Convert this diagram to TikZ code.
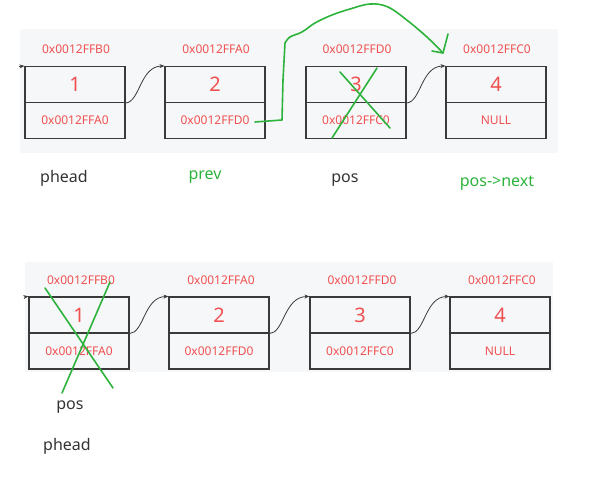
\documentclass[tikz,border=0pt]{standalone}
\usepackage{fontspec}
\setmainfont{Noto Sans}
\usetikzlibrary{arrows.meta}
\definecolor{addr}{HTML}{F05050}
\definecolor{bgc}{HTML}{F6F7F9}
\definecolor{grn}{HTML}{2DB33C}
\definecolor{lbl}{HTML}{333333}
\definecolor{edge}{HTML}{3A3A3A}
\begin{document}
\begin{tikzpicture}[x=1pt,y=-1pt,
  cell/.style={draw=edge,line width=1.1pt,minimum width=100pt,minimum height=36pt,inner sep=0pt,text=addr},
  numtext/.style={font=\fontsize{20}{20}\selectfont},
  ptrtext/.style={font=\fontsize{12}{12}\selectfont},
  addrlbl/.style={text=addr,font=\fontsize{12}{12}\selectfont},
  namelbl/.style={text=lbl,font=\fontsize{16}{16}\selectfont},
  greenlbl/.style={text=grn,font=\fontsize{16}{16}\selectfont},
  link/.style={draw=edge,line width=0.8pt,-{Stealth[length=5pt,width=4pt]}},
  gstroke/.style={draw=grn,line width=1.6pt,line cap=round,line join=round}]
\useasboundingbox (0,0) rectangle (590,481);
\fill[bgc] (20,29) rectangle (558,153);
\fill[bgc] (25,262) rectangle (553,372);
% ---- top row ----
\foreach \n/\x/\v/\p/\a in {1/75/1/0x0012FFA0/0x0012FFB0,2/215/2/0x0012FFD0/0x0012FFA0,3/356/3/0x0012FFC0/0x0012FFD0,4/496/4/NULL/0x0012FFC0}{
  \node[cell,numtext] (ta\n) at (\x,84.5) {\v};
  \node[cell,ptrtext] (tb\n) at (\x,120.5) {\p};
  \node[addrlbl] (tl\n) at (\x+1,49) {\a};
}
\coordinate (tin) at (19,66.5);
\draw[link] (tin) -- (ta1.north west);
\draw[link] (ta1.south east) .. controls (140,102) and (140,66.5) .. (ta2.north west);
\draw[link] (ta3.south east) .. controls (421,102) and (421,66.5) .. (ta4.north west);
\node[namelbl] (phead1) at (64,178) {phead};
\node[greenlbl] (prev) at (205,177) {prev};
\node[namelbl] (pos1) at (345,180) {pos};
\node[greenlbl] (posnext) at (497,183) {pos->next};
% green redirect
\coordinate (gs) at (255,122);
\coordinate (ge) at (443,53);
\draw[gstroke] (gs) -- (282,120) -- (283,80) -- (285,43)
  plot[smooth,tension=0.6] coordinates {(285,43) (290,37) (302,32) (315,23) (332,15) (350,9) (370,4) (388,7) (408,21) (428,38) (443,53)};
\draw[gstroke] (432,51) -- (ge) -- (448,34);
% cross on node 3
\draw[gstroke] (340,72) -- (390,128);
\draw[gstroke] (377,68) -- (332,138);
% ---- bottom row ----
\foreach \n/\x/\v/\p/\a in {1/79/1/0x0012FFA0/0x0012FFB0,2/219/2/0x0012FFD0/0x0012FFA0,3/360/3/0x0012FFC0/0x0012FFD0,4/500/4/NULL/0x0012FFC0}{
  \node[cell,numtext] (ba\n) at (\x,315) {\v};
  \node[cell,ptrtext] (bb\n) at (\x,351) {\p};
  \node[addrlbl] (bl\n) at (\x+2,280) {\a};
}
\coordinate (bin) at (24,297);
\draw[link] (bin) -- (ba1.north west);
\draw[link] (ba1.south east) .. controls (144,333) and (144,297) .. (ba2.north west);
\draw[link] (ba2.south east) .. controls (284,333) and (284,297) .. (ba3.north west);
\draw[link] (ba3.south east) .. controls (425,333) and (425,297) .. (ba4.north west);
% cross on node 1
\draw[gstroke] (45,288) -- (113,388);
\draw[gstroke] (110,282) -- (62,393);
\node[namelbl] (pos2) at (70,407) {pos};
\node[namelbl] (phead2) at (67,446) {phead};
\end{tikzpicture}
\end{document}
